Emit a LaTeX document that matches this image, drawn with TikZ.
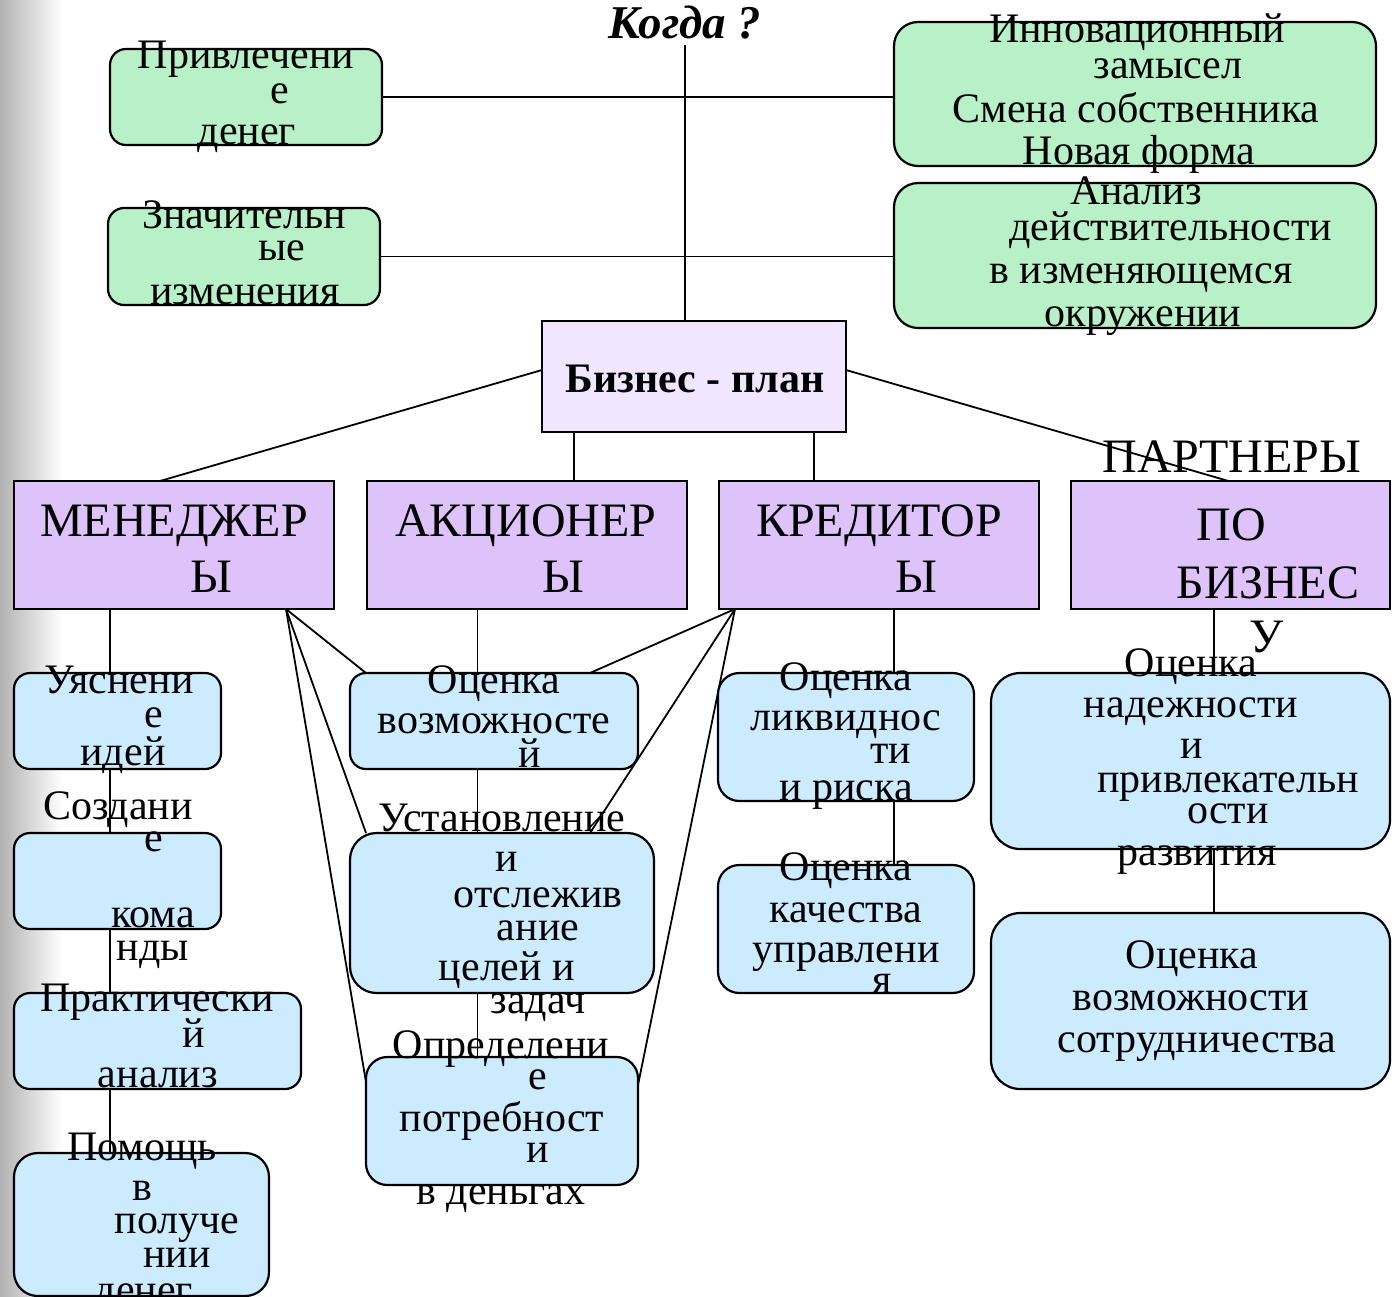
\documentclass[tikz,border=0pt]{standalone}
\usepackage{fontspec}
\setmainfont{Liberation Serif}
\definecolor{gfill}{RGB}{184,240,200}
\definecolor{pfill}{RGB}{222,194,250}
\definecolor{bpfill}{RGB}{241,230,255}
\definecolor{bfill}{RGB}{204,235,255}
\pgfdeclarelayer{bg}
\pgfsetlayers{bg,main}
\newcounter{tlc}
\newcommand{\tl}[4][txt]{\stepcounter{tlc}\node[#1] (tl\arabic{tlc}) at (#2,#3) {#4};}
\newcommand{\bx}[6]{%
  \pgfmathsetmacro{\bw}{(#5-#3)*0.5}%
  \pgfmathsetmacro{\bh}{(#6-#4)*0.5}%
  \pgfmathsetmacro{\br}{min(\bw,\bh)*0.1667}%
  \node[minimum width=\bw pt, minimum height=\bh pt, rounded corners=\br pt, inner sep=0pt, outer sep=0pt, #1] (#2) at ({(#3+#5)/2},{(#4+#6)/2}) {};}
\tikzset{
  ln/.style={draw=black, line width=0.9pt},
  gbox/.style={draw=black, line width=1.1pt, fill=gfill},
  pbox/.style={draw=black, line width=1.2pt, fill=pfill, sharp corners},
  bpbox/.style={draw=black, line width=1.2pt, fill=bpfill, sharp corners},
  bbox/.style={draw=black, line width=1.1pt, fill=bfill},
  txt/.style={font=\fontsize{21pt}{21pt}\selectfont, inner sep=0pt, anchor=base},
  big/.style={font=\fontsize{24pt}{24pt}\selectfont, inner sep=0pt, anchor=base},
  bold/.style={font=\fontsize{21pt}{21pt}\selectfont\bfseries, inner sep=0pt, anchor=base},
  ttl/.style={font=\fontsize{23.5pt}{23.5pt}\selectfont\bfseries\itshape, inner sep=0pt, anchor=base}
}
\begin{document}
\begin{tikzpicture}[x=0.5pt,y=-0.5pt]
\useasboundingbox (0,0) rectangle (1394,1297);
\begin{pgfonlayer}{bg}
\fill[white] (0,0) rectangle (1394,1297);
\shade[left color=gray!60, right color=white] (0,0) rectangle (62,1297);
\end{pgfonlayer}

% title
\node[ttl] (kogda) at (685,38) {Когда ?};

% boxes
\bx{gbox}{g1}{110}{49}{382}{145}
\bx{gbox}{g2}{108}{208}{380}{305}
\bx{gbox}{g3}{894}{22}{1376}{166}
\bx{gbox}{g4}{894}{183}{1376}{328}
\bx{bpbox}{bp}{542}{321}{846}{432}
\bx{pbox}{m}{14}{481}{334}{609}
\bx{pbox}{a}{367}{481}{687}{609}
\bx{pbox}{k}{719}{481}{1039}{609}
\bx{pbox}{p}{1071}{481}{1390}{609}
\bx{bbox}{h1}{14}{673}{221}{769}
\bx{bbox}{h2}{14}{833}{221}{929}
\bx{bbox}{h3}{14}{993}{301}{1089}
\bx{bbox}{h4}{14}{1153}{269}{1296}
\bx{bbox}{o1}{350}{673}{638}{769}
\bx{bbox}{o2}{350}{833}{654}{993}
\bx{bbox}{o3}{366}{1057}{638}{1185}
\bx{bbox}{c1}{718}{673}{974}{801}
\bx{bbox}{c2}{718}{865}{974}{993}
\bx{bbox}{r1}{991}{673}{1390}{849}
\bx{bbox}{r2}{991}{913}{1390}{1089}

% connectors (behind the boxes)
\begin{pgfonlayer}{bg}
\draw[ln] ([yshift=-3pt]kogda.south) -- (kogda.south |- bp.north);
\draw[ln] (g1.east) -- (g1.east -| g3.west);
\draw[ln] (g2.east) -- (g2.east -| g4.west);
\draw[ln] ([yshift=3.25pt]bp.west) -- ([xshift=-7pt]m.north);
\draw[ln] ([yshift=3.25pt]bp.east) -- ([xshift=-1pt]p.north);
\draw[ln] ([xshift=-60pt]bp.south) -- ([xshift=-60pt]bp.south |- a.north);
\draw[ln] ([xshift=60pt]bp.south) -- ([xshift=60pt]bp.south |- k.north);
\draw[ln] ([xshift=-32pt]m.south) -- ([xshift=-32pt]m.south |- h4.north);
\draw[ln] ([xshift=-24pt]m.south east) -- ([xshift=8pt]o1.north west);
\draw[ln] ([xshift=-24pt]m.south east) -- ([xshift=8pt]o2.north west);
\draw[ln] ([xshift=-24pt]m.south east) -- ([yshift=-12.5pt]o3.north west);
\draw[ln] ([xshift=-24.75pt]a.south) -- ([xshift=-24.75pt]a.south |- o3.north);
\draw[ln] ([xshift=8pt]k.south west) -- ([xshift=-24pt]o1.north east);
\draw[ln] ([xshift=8pt]k.south west) -- ([xshift=-32pt]o2.north east);
\draw[ln] ([xshift=8pt]k.south west) -- ([yshift=-14pt]o3.north east);
\draw[ln] ([xshift=7.5pt]k.south) -- ([xshift=7.5pt]k.south |- c2.north);
\draw[ln] ([xshift=-8.25pt]p.south) -- ([xshift=-8.25pt]p.south |- r2.north);
\end{pgfonlayer}

% texts
\tl{246}{68}{Привлечени}
\tl{280}{103}{е}
\tl{247}{144}{денег}
\tl{244}{228}{Значительн}
\tl{282}{260}{ые}
\tl{245}{304}{изменения}
\tl{1137}{42}{Инновационный}
\tl{1168}{78}{замысел}
\tl{1136}{122}{Смена собственника}
\tl{1139}{164}{Новая форма}
\tl{1136}{204}{Анализ}
\tl{1171}{240}{действительности}
\tl{1141}{283}{в изменяющемся}
\tl{1143}{326}{окружении}
\tl[bold]{695}{392}{Бизнес - план}
\tl[big]{174}{536}{МЕНЕДЖЕР}
\tl[big]{211}{592}{Ы}
\tl[big]{526}{536}{АКЦИОНЕР}
\tl[big]{563}{592}{Ы}
\tl[big]{879}{536}{КРЕДИТОР}
\tl[big]{916}{592}{Ы}
\tl[big]{1232}{472}{ПАРТНЕРЫ}
\tl[big]{1231}{540}{ПО}
\tl[big]{1268}{598}{БИЗНЕС}
\tl[big]{1266}{652}{У}
\tl{119}{693}{Уяснени}
\tl{154}{727}{е}
\tl{123}{765}{идей}
\tl{118}{819}{Создани}
\tl{154}{851}{е}
\tl{153}{927}{кома}
\tl{153}{960}{нды}
\tl{157}{1011}{Практически}
\tl{194}{1047}{й}
\tl{158}{1087}{анализ}
\tl{142}{1160}{Помощь}
\tl{142}{1200}{в}
\tl{177}{1233}{получе}
\tl{177}{1267}{нии}
\tl{144}{1303}{денег}
\tl{494}{693}{Оценка}
\tl{494}{733}{возможносте}
\tl{530}{767}{й}
\tl{502}{831}{Установление}
\tl{507}{871}{и}
\tl{538}{907}{отслежив}
\tl{538}{940}{ание}
\tl{507}{980}{целей и}
\tl{538}{1013}{задач}
\tl{501}{1058}{Определени}
\tl{538}{1089}{е}
\tl{502}{1131}{потребност}
\tl{538}{1162}{и}
\tl{501}{1204}{в деньгах}
\tl{846}{690}{Оценка}
\tl{846}{730}{ликвиднос}
\tl{891}{763}{ти}
\tl{846}{800}{и риска}
\tl{846}{880}{Оценка}
\tl{846}{922}{качества}
\tl{846}{962}{управлени}
\tl{882}{993}{я}
\tl{1191}{676}{Оценка}
\tl{1191}{717}{надежности}
\tl{1192}{758}{и}
\tl{1228}{792}{привлекательн}
\tl{1228}{823}{ости}
\tl{1197}{865}{развития}
\tl{1192}{968}{Оценка}
\tl{1191}{1010}{возможности}
\tl{1197}{1052}{сотрудничества}
\end{tikzpicture}
\end{document}
